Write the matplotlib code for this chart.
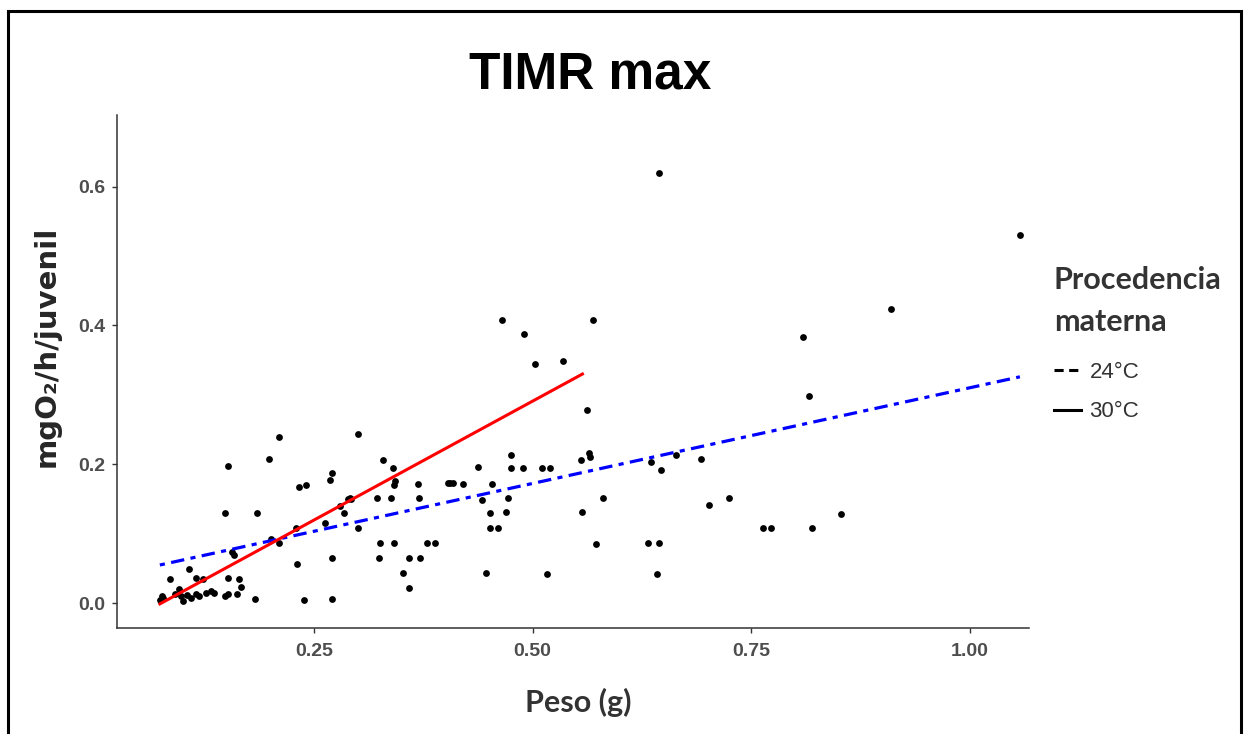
import matplotlib
matplotlib.use("Agg")
from matplotlib import pyplot as plt
from matplotlib.lines import Line2D
from matplotlib.patches import Rectangle

# weight (g) and max metabolic rate (mgO2/h/juvenile)
peso = [0.210, 0.152, 0.199, 0.233, 0.241, 0.148, 0.185, 0.201, 0.210, 0.230,
        0.231, 0.239, 0.156, 0.159, 0.107, 0.086, 0.115, 0.123, 0.152, 0.164,
        0.167, 0.162, 0.148, 0.152, 0.183, 0.076, 0.078, 0.074, 0.091, 0.096,
        0.098, 0.100, 0.105, 0.110, 0.115, 0.119, 0.127, 0.132, 0.136,
        0.301, 0.329, 0.340, 0.271, 0.268, 0.343, 0.342, 0.369, 0.403, 0.406,
        0.409, 0.420, 0.438, 0.454, 0.291, 0.289, 0.292, 0.322, 0.338, 0.370,
        0.280, 0.284, 0.263, 0.300, 0.442, 0.451, 0.451, 0.461, 0.326, 0.342,
        0.379, 0.388, 0.271, 0.325, 0.359, 0.371, 0.352, 0.359, 0.447, 0.271,
        0.465, 0.569, 0.490, 0.503, 0.535, 0.562, 0.475, 0.564, 0.566, 0.475,
        0.489, 0.511, 0.520, 0.555, 0.472, 0.470, 0.580, 0.557, 0.572, 0.516,
        0.644, 1.057, 0.910, 0.809, 0.816, 0.635, 0.647, 0.664, 0.693, 0.702,
        0.724, 0.763, 0.772, 0.819, 0.852, 0.632, 0.644, 0.642]
mgo2 = [0.239, 0.197, 0.208, 0.168, 0.170, 0.130, 0.130, 0.092, 0.087, 0.109,
        0.056, 0.004, 0.074, 0.070, 0.049, 0.035, 0.037, 0.035, 0.037, 0.035,
        0.023, 0.013, 0.011, 0.013, 0.006, 0.011, 0.007, 0.005, 0.013, 0.020,
        0.011, 0.003, 0.012, 0.008, 0.013, 0.010, 0.015, 0.018, 0.014,
        0.244, 0.206, 0.194, 0.187, 0.177, 0.176, 0.170, 0.172, 0.173, 0.173,
        0.173, 0.172, 0.196, 0.172, 0.152, 0.150, 0.150, 0.151, 0.151, 0.151,
        0.140, 0.130, 0.116, 0.108, 0.148, 0.130, 0.108, 0.108, 0.086, 0.086,
        0.086, 0.086, 0.065, 0.065, 0.065, 0.065, 0.043, 0.022, 0.043, 0.006,
        0.408, 0.408, 0.387, 0.344, 0.349, 0.278, 0.213, 0.217, 0.211, 0.194,
        0.194, 0.194, 0.194, 0.206, 0.151, 0.131, 0.151, 0.131, 0.085, 0.042,
        0.620, 0.530, 0.423, 0.384, 0.299, 0.204, 0.192, 0.213, 0.208, 0.142,
        0.151, 0.109, 0.109, 0.109, 0.128, 0.087, 0.087, 0.042]

# fitted lines per maternal origin (end points)
fit_24_x = [0.074, 1.057]
fit_24_y = [0.055, 0.326]
fit_30_x = [0.074, 0.557]
fit_30_y = [-0.001, 0.330]

x_ticks = [0.25, 0.50, 0.75, 1.00]
x_ticklabels = ["0.25", "0.50", "0.75", "1.00"]
y_ticks = [0.0, 0.2, 0.4, 0.6]
y_ticklabels = ["0.0", "0.2", "0.4", "0.6"]
legend_labels = ["24°C", "30°C"]

sans = ["Liberation Sans", "DejaVu Sans"]
cal = ["Lato", "DejaVu Sans"]

fig = plt.figure(figsize=(12.45, 7.34), dpi=100)
W, H = 1245, 734
ax = fig.add_axes([117 / W, (H - 627.5) / H, 912 / W, 512.5 / H])

ax.scatter(peso, mgo2, s=24, color="black", zorder=2, linewidths=0)
ax.plot(fit_24_x, fit_24_y, color="#0000FF", lw=2.3,
        linestyle=(0, (1.6, 2.0, 4.2, 2.0)), zorder=3)
ax.plot(fit_30_x, fit_30_y, color="#FF0000", lw=2.2, zorder=4)

ax.set_xlim(0.025, 1.0674)
ax.set_ylim(-0.035, 0.703)
ax.set_xticks(x_ticks)
ax.set_xticklabels(x_ticklabels)
ax.set_yticks(y_ticks)
ax.set_yticklabels(y_ticklabels)
for s in ["top", "right"]:
    ax.spines[s].set_visible(False)
for s in ["left", "bottom"]:
    ax.spines[s].set_color("#333333")
    ax.spines[s].set_linewidth(1.1)
ax.tick_params(axis="both", length=3.5, width=1.0, color="#333333",
               labelcolor="#4D4D4D")
ax.tick_params(axis="x", pad=8)
ax.tick_params(axis="y", pad=5)
for lab in ax.get_xticklabels() + ax.get_yticklabels():
    lab.set_family(sans)
    lab.set_fontweight("bold")
    lab.set_fontsize(14)

fig.text(590 / W, 1 - 75 / H, "TIMR max", ha="center", va="center",
         family=sans, fontweight="bold", fontsize=37, color="black")
fig.text(578 / W, 1 - 702 / H, "Peso (g)", ha="center", va="center",
         family=cal, fontweight="bold", fontsize=22, color="#333333")
fig.text(47 / W, 1 - 346 / H, "mgO₂/h/juvenil", ha="center", va="center",
         rotation=90, family=["DejaVu Sans"], fontweight="bold", fontsize=21,
         color="#262626")

# legend: title as its own text, entries as a plain legend below it
fig.text(1054 / W, 1 - 301 / H, "Procedencia\nmaterna", ha="left",
         va="center", family=cal, fontweight="bold", fontsize=22,
         color="#333333", linespacing=1.65)
handles = [Line2D([], [], color="black", lw=2.2, linestyle=(0, (3, 1.8))),
           Line2D([], [], color="black", lw=2.2)]
leg = fig.legend(handles, legend_labels, loc="center left",
                 bbox_to_anchor=(1054 / W, 1 - 392 / H), frameon=False,
                 prop={"family": sans, "size": 16},
                 handlelength=1.2, handletextpad=0.4, labelspacing=0.85,
                 borderpad=0, borderaxespad=0)
for t in leg.get_texts():
    t.set_color("#333333")

# outer frame of the original figure
fig.patches.append(Rectangle((8 / W, -0.1), 1233 / W, 1.1 - 11 / H,
                             transform=fig.transFigure, fill=False,
                             edgecolor="black", lw=2.2))

plt.savefig("out.png", dpi=100)
